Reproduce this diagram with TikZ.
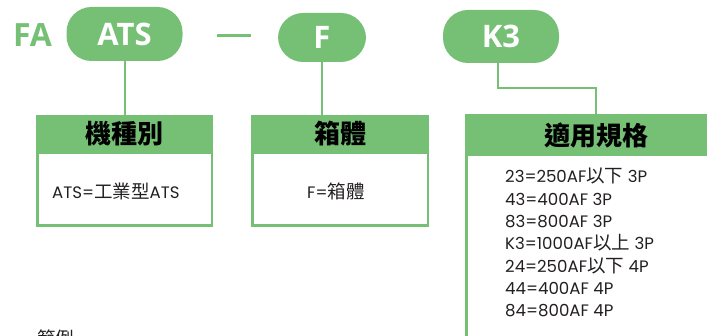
\documentclass[tikz,border=0pt]{standalone}
\usepackage{fontspec}
\newfontfamily\latf{Poppins}
\newfontfamily\cjkf{Noto Sans CJK TC}
\newfontfamily\pillf{Open Sans}
\definecolor{grn}{RGB}{118,192,118}
\definecolor{txt}{RGB}{35,31,32}
\newcommand\Lt[1]{{\latf\fontsize{16.6}{18}\selectfont #1}}
\newcommand\Ck[1]{{\cjkf\fontsize{18.5}{18}\selectfont #1}}
\begin{document}
\begin{tikzpicture}[x=1pt,y=-1pt,
  pill/.style={fill=grn, rounded corners=25pt, inner sep=0pt, text=white,
    font=\pillf\bfseries\fontsize{31}{31}\selectfont},
  head/.style={fill=grn, inner sep=0pt, text=black,
    font=\cjkf\bfseries\fontsize{26}{26}\selectfont},
  body/.style={draw=grn, line width=2.5pt},
  conn/.style={draw=grn, line width=2pt},
  lbl/.style={anchor=base west, inner sep=0pt, text=txt}]
\useasboundingbox (0,0) rectangle (707,336);
\clip (0,0) rectangle (707,336);

% code row
\node[anchor=base, inner sep=0pt, text=grn, font=\pillf\bfseries\fontsize{32}{32}\selectfont] (fa) at (32.5,47) {FA};
\node[pill, minimum width=116pt, minimum height=54pt] (ats) at (124.5,34) {ATS};
\node[fill=grn, inner sep=0pt, minimum width=34pt, minimum height=3pt] (sep) at (234,36) {};
\node[pill, minimum width=88pt, minimum height=49pt] (f) at (322,37.5) {F};
\node[pill, minimum width=116pt, minimum height=53pt] (k3) at (501,36.5) {K3};

% headers
\node[head, minimum width=177pt, minimum height=38pt] (h1) at (124.5,134) {機種別};
\node[head, minimum width=178pt, minimum height=38pt] (h2) at (340,134) {箱體};
\node[head, minimum width=262pt, minimum height=42pt] (h3) at (596,135) {適用規格};

% bodies
\draw[body] (37.25,153) rectangle (211.75,225.75);
\draw[body] (252.25,153) rectangle (427.75,225.75);
\draw[body] (466.25,156) -- (466.25,340);

% connectors
\draw[conn] (ats.south) -- (h1.north);
\draw[conn] (f.south) -- (f.south |- h2.north);
\draw[conn] ([xshift=-3pt]k3.south) -- ++(0,24.5) -| (h3.north);

% body texts
\node[lbl] (t1) at (52,198.3) {\Lt{ATS=}\Ck{工業型}\Lt{ATS}};
\node[lbl] (t2) at (307,198.3) {\Lt{F=}\Ck{箱體}};

\node[lbl] (s1) at (505,183) {\Lt{23=250AF}\Ck{以下}\Lt{~3P}};
\node[lbl] (s2) at (505,205.3) {\Lt{43=400AF 3P}};
\node[lbl] (s3) at (505,227.7) {\Lt{83=800AF 3P}};
\node[lbl] (s4) at (505,250) {\Lt{K3=1000AF}\Ck{以上}\Lt{~3P}};
\node[lbl] (s5) at (505,272.3) {\Lt{24=250AF}\Ck{以下}\Lt{~4P}};
\node[lbl] (s6) at (505,294.7) {\Lt{44=400AF 4P}};
\node[lbl] (s7) at (505,317) {\Lt{84=800AF 4P}};

\node[lbl] (ex) at (37,346) {\Ck{範例}};
\end{tikzpicture}
\end{document}
